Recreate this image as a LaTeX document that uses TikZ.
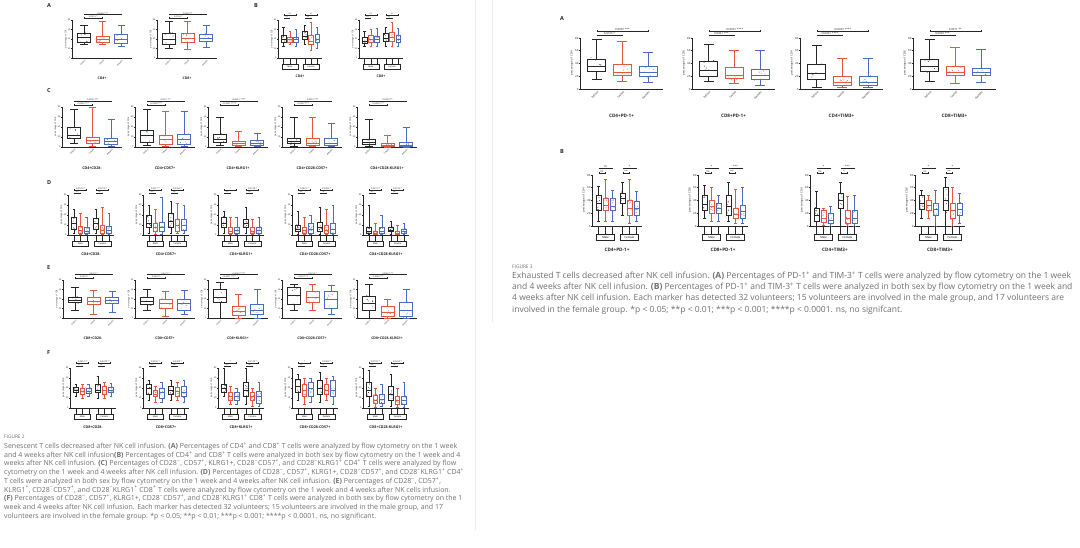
\documentclass[tikz,border=0pt]{standalone}
\usepackage{fontspec}
\setmainfont{Open Sans}
\usetikzlibrary{arrows.meta}
\definecolor{gblack}{HTML}{262626}
\definecolor{gred}{HTML}{E4573F}
\definecolor{gblue}{HTML}{4A6CC3}
\definecolor{capgray}{HTML}{707070}
\newcommand{\plusup}{\textsuperscript{+}}
\newcommand{\minusup}{\textsuperscript{−}}
\tikzset{
  axisl/.style={line width=0.55pt, gblack},
  boxl/.style={line width=0.7pt},
  sigl/.style={line width=0.5pt, gblack, {Bar[width=1.6pt]}-{Bar[width=1.6pt]}},
  ticktxt/.style={font=\fontsize{\fss}{\fss}\selectfont, text=gblack, inner sep=0.2pt},
  sigtxt/.style={font=\fontsize{\fss}{\fss}\selectfont, text=gblack, inner sep=0.3pt, anchor=south},
  ptitle/.style={font=\fontsize{\fs}{\fs}\selectfont\bfseries, text=gblack, inner sep=0.5pt},
  sexbox/.style={draw=gblack, line width=0.45pt, font=\fontsize{\fss}{\fss}\selectfont, inner sep=0.3pt, anchor=north},
  plabel/.style={font=\fontsize{5.5}{6}\selectfont\bfseries, text=gblack, inner sep=0pt, anchor=north west},
  figtag/.style={font=\fontsize{4.8}{5}\selectfont, text=capgray, inner sep=0pt, anchor=west},
  captxt/.style={text=capgray, inner sep=0pt, anchor=north west, align=left},
  pageline/.style={draw=black!8, line width=0.8pt},
}
% one box: x, colour, min, q1, median, q3, max (fractions of the panel height)
\newcommand{\bx}[7]{%
  \draw[boxl, #2] (#1,#3*\ph) -- (#1,#4*\ph) (#1,#6*\ph) -- (#1,#7*\ph)
    (#1-\cw,#3*\ph) -- (#1+\cw,#3*\ph) (#1-\cw,#7*\ph) -- (#1+\cw,#7*\ph)
    (#1-\bw,#4*\ph) rectangle (#1+\bw,#6*\ph)
    (#1-\bw,#5*\ph) -- (#1+\bw,#5*\ph);
  \foreach \k in {1,...,6}
    \fill[#2] ({#1+(rnd-0.5)*1.3*\bw},{(#4+(rnd*1.2-0.1)*(#6-#4))*\ph}) circle (0.45);
}
\newcommand{\plotaxes}[4]{%
  \draw[axisl] (0,#2) -- (0,0) -- (#1,0);
  \foreach \t [evaluate=\t as \v using int(20*\t)] in {0,...,4} {
    \draw[axisl] (0,\t*#2/4) -- (-1,\t*#2/4);
    \node[ticktxt, anchor=east] (#4-t\t) at (-1.2,\t*#2/4) {\v};
  }
  \node[ticktxt, rotate=90] (#4-y) at (-0.16*#2,0.5*#2) {#3};
}
% x0, base, width, height, y label, title, p labels, boxes, name
\newcommand{\threeplot}[9]{%
  \begin{scope}[shift={(#1,#2)}, yscale=-1]
    \pgfmathsetmacro\ph{#4}
    \pgfmathsetmacro\bw{0.11*#3}
    \pgfmathsetmacro\cw{0.06*#3}
    \pgfmathsetmacro\fs{#4/11}
    \pgfmathsetmacro\fss{#4/18}
    \plotaxes{#3}{#4}{#5}{#9}
    \foreach \cl/\lo/\qa/\md/\qb/\hi [count=\i] in {#8} {
      \pgfmathsetmacro\xx{(0.2+(\i-1)*0.31)*#3}
      \bx{\xx}{\cl}{\lo}{\qa}{\md}{\qb}{\hi}
      \pgfmathparse{{"before","1 week","4 weeks"}[\i-1]}
      \edef\lab{\pgfmathresult}
      \node[ticktxt, rotate=45, anchor=north east] (#9-x\i) at (\xx+0.6,-1.2) {\lab};
    }
    \foreach \ta/\tb in {#7} {
      \draw[sigl] (0.2*#3,1.14*#4) -- node[sigtxt] (#9-s1) {\ta} (0.82*#3,1.14*#4);
      \draw[sigl] (0.2*#3,1.05*#4) -- node[sigtxt] (#9-s2) {\tb} (0.51*#3,1.05*#4);
    }
    \node[ptitle] (#9) at (0.5*#3,-0.53*#4) {#6};
  \end{scope}}
\newcommand{\twoplot}[9]{%
  \begin{scope}[shift={(#1,#2)}, yscale=-1]
    \pgfmathsetmacro\ph{#4}
    \pgfmathsetmacro\bw{0.05*#3}
    \pgfmathsetmacro\cw{0.03*#3}
    \pgfmathsetmacro\fs{#4/11}
    \pgfmathsetmacro\fss{#4/18}
    \pgfmathsetmacro\sw{0.36*#3}
    \pgfmathsetmacro\sh{0.13*#4}
    \plotaxes{#3}{#4}{#5}{#9}
    \foreach \cl/\lo/\qa/\md/\qb/\hi [count=\i] in {#8} {
      \pgfmathsetmacro\xx{(0.13+(\i-1)*0.14+(\i>3)*0.06)*#3}
      \bx{\xx}{\cl}{\lo}{\qa}{\md}{\qb}{\hi}
      \draw[axisl] (\xx,0) -- (\xx,-0.15*#4);
    }
    \foreach \ta/\tb [count=\j] in {#7} {
      \pgfmathsetmacro\gx{(0.13+(\j-1)*0.48)*#3}
      \draw[sigl] (\gx,1.13*#4) -- node[sigtxt] (#9-a\j) {\ta} (\gx+0.28*#3,1.13*#4);
      \draw[sigl] (\gx,1.04*#4) -- node[sigtxt] (#9-b\j) {\tb} (\gx+0.14*#3,1.04*#4);
    }
    \node[sexbox, minimum width=\sw pt, minimum height=\sh pt] (#9-m) at (0.27*#3,-0.15*#4) {Male};
    \node[sexbox, minimum width=\sw pt, minimum height=\sh pt] (#9-f) at (0.75*#3,-0.15*#4) {Female};
    \node[ptitle] (#9) at (0.5*#3,-0.47*#4) {#6};
  \end{scope}}

\begin{document}
\begin{tikzpicture}[x=1pt, y=-1pt]
  \pgfmathsetseed{17}
  \useasboundingbox (0,0) rectangle (1080,547);
  \fill[white] (0,0) rectangle (1080,547);
  \draw[pageline] (475,0) -- (475,530);
  \draw[pageline] (492,0) -- (492,322);

  % figure 2, panels A and B
  \node[plabel] (f2A) at (47,3) {A};
  \node[plabel] (f2B) at (254,3) {B};
  \threeplot{72}{58}{60}{38}{percentage of CD3}{CD4+}{0.0006 ***/0.0216 *}
    {gblack/.35/.42/.55/.65/.87, gred/.35/.42/.48/.58/.96, gblue/.30/.39/.48/.61/.87}{a1}
  \threeplot{157}{58}{60}{38}{percentage of CD3}{CD8+}{0.0034 **/0.0163 *}
    {gblack/.26/.37/.5/.65/.96, gred/.22/.41/.52/.65/.96, gblue/.28/.43/.52/.63/.87}{a2}
  \twoplot{278}{58}{44}{38}{percentage of CD3}{CD4+}{ns/ns, ns/ns}
    {gblack/.3/.4/.5/.6/.8, gred/.35/.42/.5/.55/.7, gblue/.3/.4/.48/.55/.75,
     gblack/.35/.5/.58/.7/.85, gred/.2/.35/.45/.6/.95, gblue/.25/.4/.5/.62/.8}{b1}
  \twoplot{359}{58}{44}{38}{percentage of CD3}{CD8+}{ns/ns, ns/ns}
    {gblack/.3/.38/.45/.55/.7, gred/.3/.42/.5/.6/.75, gblue/.3/.4/.5/.58/.78,
     gblack/.3/.45/.52/.65/.8, gred/.3/.45/.55/.68/.95, gblue/.3/.42/.5/.6/.78}{b2}

  % panel C
  \node[plabel] (f2C) at (47,88) {C};
  \threeplot{62}{147}{60}{40}{percentage of CD4}{CD4+CD28-}{0.0002 ***/0.0005 ***}
    {gblack/.08/.21/.3/.5/.93, gred/.02/.08/.17/.25/1, gblue/.02/.06/.14/.22/.7}{c1}
  \threeplot{135}{147}{60}{40}{percentage of CD4}{CD4+CD57+}{0.0011 **/0.0008 ***}
    {gblack/.05/.12/.3/.42/.93, gred/.02/.06/.18/.29/.9, gblue/.02/.06/.2/.31/.9}{c2}
  \threeplot{208}{147}{60}{40}{percentage of CD4}{CD4+KLRG1+}{<0.0001 ****/<0.0001 ****}
    {gblack/.03/.11/.2/.31/.75, gred/.01/.03/.08/.14/.4, gblue/.01/.03/.09/.17/.35}{c3}
  \threeplot{282}{147}{60}{40}{percentage of CD4}{CD4+CD28-CD57+}{0.0001 ***/0.0007 ***}
    {gblack/.02/.08/.14/.22/.75, gred/.01/.03/.1/.21/.75, gblue/.01/.03/.1/.21/.6}{c4}
  \threeplot{357}{147}{60}{40}{percentage of CD4}{CD4+CD28-KLRG1+}{0.0024 **/0.0009 ***}
    {gblack/.01/.06/.12/.18/.7, gred/0/.01/.04/.08/.3, gblue/0/.02/.05/.11/.48}{c5}

  % panel D
  \node[plabel] (f2D) at (47,180) {D};
  \twoplot{68}{235}{46}{40}{percentage of CD4}{CD4+CD28-}{0.0125 */ns, 0.0213 */ns}
    {gblack/.05/.15/.3/.45/.65, gred/.02/.05/.12/.22/.55, gblue/.02/.05/.1/.18/.45,
     gblack/.05/.15/.3/.42/.65, gred/.02/.05/.12/.25/.7, gblue/.02/.05/.12/.22/.55}{d1}
  \twoplot{143}{235}{46}{40}{percentage of CD4}{CD4+CD57+}{0.0317 */ns, 0.0452 */ns}
    {gblack/.05/.18/.3/.5/.75, gred/.02/.08/.18/.3/.65, gblue/.02/.08/.2/.32/.95,
     gblack/.05/.2/.35/.55/.85, gred/.05/.1/.25/.4/.8, gblue/.05/.12/.25/.4/.75}{d2}
  \twoplot{218}{235}{46}{40}{percentage of CD4}{CD4+KLRG1+}{*/ns, 0.0108 */ns}
    {gblack/.05/.2/.3/.45/.6, gred/.02/.04/.1/.18/.45, gblue/.02/.05/.12/.2/.45,
     gblack/.05/.2/.3/.38/.7, gred/.02/.04/.1/.18/.4, gblue/.02/.05/.12/.2/.45}{d3}
  \twoplot{292}{235}{46}{40}{percentage of CD4}{CD4+CD28-CD57+}{0.0421 */ns, 0.0386 */ns}
    {gblack/.02/.08/.15/.25/.6, gred/.02/.05/.12/.2/.45, gblue/.02/.05/.15/.3/.5,
     gblack/.02/.08/.18/.32/.7, gred/.02/.05/.12/.25/.65, gblue/.02/.05/.15/.3/.75}{d4}
  \twoplot{363}{235}{46}{40}{percentage of CD4}{CD4+CD28-KLRG1+}{0.0277 */ns, 0.0195 */ns}
    {gblack/.02/.05/.1/.2/.75, gred/.01/.02/.05/.1/.3, gblue/.01/.03/.1/.2/.5,
     gblack/.02/.08/.12/.2/.35, gred/.01/.02/.05/.1/.25, gblue/.01/.03/.08/.15/.3}{d5}

  % panel E
  \node[plabel] (f2E) at (47,265) {E};
  \threeplot{63}{318}{60}{38}{percentage of CD8}{CD8+CD28-}{0.0351 */0.0265 *}
    {gblack/.2/.4/.47/.55/.8, gred/.1/.35/.45/.55/.72, gblue/.15/.38/.46/.55/.7}{e1}
  \threeplot{135}{318}{60}{38}{percentage of CD8}{CD8+CD57+}{0.0311 */0.0426 *}
    {gblack/.2/.35/.45/.55/.75, gred/.05/.25/.38/.5/.7, gblue/.1/.2/.38/.5/.72}{e2}
  \threeplot{208}{318}{60}{38}{percentage of CD8}{CD8+KLRG1+}{<0.0001 ****/<0.0001 ****}
    {gblack/0/.4/.55/.75/.95, gred/0/.08/.18/.3/.62, gblue/0/.1/.2/.35/.75}{e3}
  \threeplot{282}{318}{60}{38}{percentage of CD8}{CD8+CD28-CD57+}{0.0213 */0.0017 **}
    {gblack/.2/.35/.6/.8/.88, gred/.2/.4/.55/.7/.88, gblue/.1/.25/.5/.7/.85}{e4}
  \threeplot{357}{318}{60}{38}{percentage of CD8}{CD8+CD28-KLRG1+}{0.0002 ***/0.0006 ***}
    {gblack/0/.2/.38/.58/.88, gred/0/.05/.15/.3/.5, gblue/0/.05/.2/.4/.75}{e5}

  % panel F
  \node[plabel] (f2F) at (47,350) {F};
  \twoplot{70}{408}{46}{40}{percentage of CD8}{CD8+CD28-}{0.0412 */ns, 0.0378 */ns}
    {gblack/.3/.38/.45/.52/.6, gred/.25/.35/.42/.5/.58, gblue/.3/.36/.42/.5/.58,
     gblack/.25/.38/.45/.58/.78, gred/.25/.35/.45/.55/.65, gblue/.3/.38/.45/.52/.62}{f1}
  \twoplot{143}{408}{46}{40}{percentage of CD8}{CD8+CD57+}{0.0236 */ns, 0.0309 */ns}
    {gblack/.2/.35/.48/.58/.7, gred/.15/.28/.35/.45/.55, gblue/.15/.25/.38/.5/.65,
     gblack/.2/.35/.45/.55/.68, gred/.2/.3/.42/.52/.65, gblue/.15/.28/.4/.55/.7}{f2}
  \twoplot{218}{408}{46}{40}{percentage of CD8}{CD8+KLRG1+}{*/ns, 0.0144 */ns}
    {gblack/.3/.4/.5/.6/.98, gred/.1/.2/.28/.38/.55, gblue/.1/.2/.3/.38/.5,
     gblack/.1/.3/.45/.65/.98, gred/.05/.2/.3/.4/.5, gblue/.05/.12/.28/.42/.65}{f3}
  \twoplot{292}{408}{46}{40}{percentage of CD8}{CD8+CD28-CD57+}{*/ns, 0.0402 */ns}
    {gblack/.2/.38/.55/.72/.85, gred/.1/.3/.45/.6/.75, gblue/.15/.3/.5/.65/.75,
     gblack/.15/.35/.5/.68/.88, gred/.2/.35/.45/.6/.75, gblue/.1/.3/.45/.68/.8}{f4}
  \twoplot{363}{408}{46}{40}{percentage of CD8}{CD8+CD28-KLRG1+}{0.0118 */ns, 0.0263 */ns}
    {gblack/.05/.3/.45/.65/.95, gred/.02/.12/.2/.32/.5, gblue/.05/.12/.22/.35/.6,
     gblack/.05/.2/.35/.55/.85, gred/.02/.1/.18/.28/.5, gblue/.02/.08/.18/.3/.65}{f5}

  % caption of figure 2
  \node[figtag] (tag2) at (4,437) {FIGURE 2};
  \node[captxt, font=\fontsize{7}{8.7}\selectfont] (cap2) at (4,442.3) {%
    Senescent T cells decreased after NK cell infusion. \textbf{(A)} Percentages of CD4\plusup{} and CD8\plusup{} T cells were analyzed by flow cytometry on the 1 week\\
    and 4 weeks after NK cell infusion\textbf{(B)} Percentages of CD4\plusup{} and CD8\plusup{} T cells were analyzed in both sex by flow cytometry on the 1 week and 4\\
    weeks after NK cell infusion. \textbf{(C)} Percentages of CD28\minusup, CD57\plusup, KLRG1+, CD28\minusup CD57\plusup, and CD28\minusup KLRG1\plusup{} CD4\plusup{} T cells were analyzed by flow\\
    cytometry on the 1 week and 4 weeks after NK cell infusion. \textbf{(D)} Percentages of CD28\minusup, CD57\plusup, KLRG1+, CD28\minusup CD57\plusup, and CD28\minusup KLRG1\plusup{} CD4\plusup\\
    T cells were analyzed in both sex by flow cytometry on the 1 week and 4 weeks after NK cell infusion. \textbf{(E)} Percentages of CD28\minusup, CD57\plusup,\\
    KLRG1\plusup, CD28\minusup CD57\plusup, and CD28\minusup KLRG1\plusup{} CD8\plusup{} T cells were analyzed by flow cytometry on the 1 week and 4 weeks after NK cells infusion.\\
    \textbf{(F)} Percentages of CD28\minusup, CD57\plusup, KLRG1+, CD28\minusup CD57\plusup, and CD28\minusup KLRG1\plusup{} CD8\plusup{} T cells were analyzed in both sex by flow cytometry on the 1\\
    week and 4 weeks after NK cell infusion. Each marker has detected 32 volunteers; 15 volunteers are involved in the male group, and 17\\
    volunteers are involved in the female group. *p < 0.05; **p < 0.01; ***p < 0.001; ****p < 0.0001. ns, no significant.};

  % figure 3, panel A
  \node[plabel] (f3A) at (560,16) {A};
  \threeplot{580}{89}{83}{51}{percentage of CD4}{CD4+PD-1+}{0.0007 ***/0.0156 *}
    {gblack/.18/.35/.45/.59/.97, gred/.15/.26/.33/.48/.93, gblue/.13/.25/.33/.44/.72}{g1}
  \threeplot{692}{89}{83}{51}{percentage of CD8}{CD8+PD-1+}{<0.0001 ****/0.0001 ***}
    {gblack/.15/.25/.36/.54/.87, gred/.12/.2/.27/.42/.76, gblue/.08/.18/.27/.39/.76}{g2}
  \threeplot{800}{89}{83}{51}{percentage of CD4}{CD4+TIM3+}{<0.0001 ****/<0.0001 ****}
    {gblack/.04/.18/.3/.48/.86, gred/.04/.08/.14/.25/.6, gblue/.04/.08/.14/.25/.6}{g3}
  \threeplot{913}{89}{83}{51}{percentage of CD8}{CD8+TIM3+}{0.0011 **/0.0005 ***}
    {gblack/.15/.35/.45/.58/.97, gred/.12/.26/.33/.44/.82, gblue/.13/.26/.32/.41/.78}{g4}

  % panel B
  \node[plabel] (f3B) at (560,149) {B};
  \twoplot{592}{226}{50}{51}{percentage of CD4}{CD4+PD-1+}{ns/ns, */**}
    {gblack/.1/.3/.45/.6/.78, gred/.1/.3/.4/.55/.92, gblue/.1/.3/.38/.55/.7,
     gblack/.2/.45/.55/.65/.85, gred/.05/.2/.35/.5/.92, gblue/.1/.2/.35/.48/.68}{h1}
  \twoplot{698}{226}{50}{51}{percentage of CD8}{CD8+PD-1+}{*/ns, ***/**}
    {gblack/.15/.3/.42/.6/.8, gred/.1/.25/.38/.5/.75, gblue/.1/.25/.35/.45/.6,
     gblack/.1/.2/.38/.6/.85, gred/.05/.15/.22/.35/.72, gblue/.05/.15/.28/.4/.75}{h2}
  \twoplot{810}{226}{50}{51}{percentage of CD4}{CD4+TIM3+}{*/ns, ***/*}
    {gblack/0/.1/.2/.35/.68, gred/.02/.08/.15/.3/.35, gblue/0/.05/.12/.25/.38,
     gblack/0/.35/.5/.65/.85, gred/0/.05/.15/.3/.58, gblue/0/.05/.15/.3/.6}{h3}
  \twoplot{915}{226}{50}{51}{percentage of CD8}{CD8+TIM3+}{*/ns, */**}
    {gblack/.15/.32/.45/.6/.7, gred/.15/.3/.4/.5/.6, gblue/0/.2/.32/.45/.7,
     gblack/0/.3/.5/.75/.95, gred/0/.15/.3/.45/.75, gblue/.05/.2/.32/.45/.65}{h4}

  % caption of figure 3
  \node[figtag] (tag3) at (512,267) {FIGURE 3};
  \node[captxt, font=\fontsize{8.5}{11.3}\selectfont] (cap3) at (512,271.5) {%
    Exhausted T cells decreased after NK cell infusion. \textbf{(A)} Percentages of PD-1\plusup{} and TIM-3\plusup{} T cells were analyzed by flow cytometry on the 1 week\\
    and 4 weeks after NK cell infusion. \textbf{(B)} Percentages of PD-1\plusup{} and TIM-3\plusup{} T cells were analyzed in both sex by flow cytometry on the 1 week and\\
    4 weeks after NK cell infusion. Each marker has detected 32 volunteers; 15 volunteers are involved in the male group, and 17 volunteers are\\
    involved in the female group. *p < 0.05; **p < 0.01; ***p < 0.001; ****p < 0.0001. ns, no signifcant.};
\end{tikzpicture}
\end{document}
